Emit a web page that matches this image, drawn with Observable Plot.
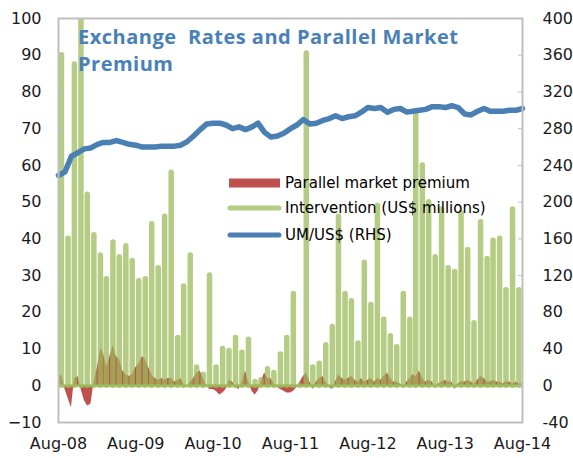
<!DOCTYPE html>
<html><head><meta charset="utf-8">
<script src="https://cdn.jsdelivr.net/npm/d3@7"></script>
<script src="https://cdn.jsdelivr.net/npm/@observablehq/plot@0.6"></script>
<style>body{margin:0;background:#fff}</style>
</head><body><div id="chart"></div>
<script>
// Intervention (US$ millions), monthly spikes Aug-08 .. Jul-14 (left axis)
const interventionValues = [
  90, 40, 87.5, 110, 52, 41, 35.5, 29, 39, 35,
  38, 34, 28.5, 29, 44, 32, 46, 58, 13, 27,
  35.5, 5, 3, 30, 5, 10, 9.5, 13, 9, 12.5,
  1, 1.5, 4.5, 3.5, 8.5, 13, 25, 0, 90.5, 5,
  6, 11, 16, 46, 25, 23, 11.5, 33.5, 22, 49,
  18, 13.5, 10.5, 25, 18, 74, 60, 50, 35, 48,
  32, 31, 47, 37, 17, 44.5, 34.5, 39.5, 40, 26,
  48, 26
];
// Parallel market premium, semi-monthly Aug-08 .. Aug-14 (left axis)
const premiumValues = [
  2, 3, -1, -3.5, -6, 2, 2.5, -1, -4, -5.5,
  -5, 1, 5, 10, 9, 5, 8, 11, 8, 7,
  4, 3, 2.5, 3, 5, 6, 8, 7, 5, 3,
  2, 1.5, 2, 1.5, 2, 2, 1, 1.5, 2, 0.5,
  -0.5, 1, 2, 3.5, 4, 2, 0, -1, -1, -1.5,
  -2.5, -2, -1, 1.5, 1, -0.5, -1, 1, 4, 1,
  -1.5, -2.5, -1.5, 1, 3.5, 2, 2, 0.5, -0.5, -1,
  -1.5, -2, -2, -1.5, -0.5, 1, 2.5, 3.5, 1, -1,
  1, 2, 2.5, 1, -0.5, -1, 1, 3, 2, 1.5,
  2, 2.5, 1.5, 1, 2, 1, 1.5, 2, 1, 2,
  1.5, 2.5, 3.5, 2, 1, 1, 0.5, -0.5, 1, 2,
  3, 2.5, 4, 2, 1, 1.5, 1, -0.5, 0.5, 1,
  1.5, 1, 1, -1, 0.5, 1, 1, 1.5, 1, 0.5,
  1.5, 2.5, 2, 1, 1, 1.5, 1, 1, 0.5, 1,
  1, 0.5, 1, 0.5, 0.5
];
// UM/US$ (RHS), monthly Aug-08 .. Aug-14
const umUsdValues = [
  229, 233, 250, 254, 258, 259, 263, 265, 265, 267,
  265, 263, 262, 260, 260, 260, 261, 261, 261, 262,
  266, 272, 279, 285, 286, 286, 284, 280, 282, 279,
  282, 286, 276, 271, 272, 275, 280, 284, 290, 285,
  286, 289, 291, 294, 291, 293, 294, 298, 303, 302,
  303, 298, 301, 302, 298, 299, 300, 301, 304, 304,
  303, 305, 303, 296, 295, 299, 302, 299, 299, 299,
  300, 300, 302
];
const leftTicks = [-10, 0, 10, 20, 30, 40, 50, 60, 70, 80, 90, 100];
const rightTickLabels = ["-40", "0", "40", "80", "120", "160", "200", "240", "280", "320", "360", "400"];
const xTickLabels = ["Aug-08", "Aug-09", "Aug-10", "Aug-11", "Aug-12", "Aug-13", "Aug-14"];
const legendLabels = ["Parallel market premium", "Intervention (US$ millions)", "UM/US$ (RHS)"];
const titleLines = ["Exchange  Rates and Parallel Market", "Premium"];
const colors = {premium: "#c0504d", intervention: "#9bbb59", umusd: "#4a7fb3", title: "#4a80b8"};

const rhsRatio = 4;
const interv = interventionValues.map((v, i) => ({date: new Date(Date.UTC(2008, 7 + i, 15)), value: v}));
const premium = premiumValues.map((v, k) => ({
  date: new Date(Date.UTC(2008, 7 + Math.floor(k / 2), k % 2 ? 16 : 1)), value: v}));
const umUsd = umUsdValues.map((v, m) => ({date: new Date(Date.UTC(2008, 7 + m, 1)), value: v}));
const xTicks = xTickLabels.map((_, i) => new Date(Date.UTC(2008 + i, 7, 1)));

const plot = Plot.plot({
  width: 573, height: 458,
  marginLeft: 58, marginRight: 51, marginTop: 18, marginBottom: 36,
  x: {type: "utc", domain: [xTicks[0], xTicks[xTicks.length - 1]], label: null},
  y: {domain: [-10, 100], label: null},
  style: {fontFamily: "DejaVu Sans", fontSize: "16px", color: "#1a1a1a", background: "#fff"},
  marks: [
    Plot.areaY(premium, {x: "date", y: "value", fill: colors.premium}),
    Plot.ruleY([0], {stroke: colors.intervention, strokeWidth: 3, strokeOpacity: 0.85}),
    Plot.ruleX(interv, {x: "date", y1: 0, y2: "value", stroke: colors.intervention,
      strokeOpacity: 0.75, strokeWidth: 5.5, strokeLinecap: "round", clip: true}),
    Plot.line(umUsd, {x: "date", y: d => d.value / rhsRatio, stroke: colors.umusd,
      strokeWidth: 5.5, strokeLinejoin: "round", strokeLinecap: "round"}),
    Plot.frame({stroke: "#bfbfbf", strokeWidth: 2}),
    Plot.axisY(leftTicks, {anchor: "left", tickSize: 0, tickPadding: 17, fontSize: 16, label: null}),
    Plot.axisY(leftTicks, {anchor: "left", tickSize: 5, dx: 5, tickFormat: () => "", stroke: "#bfbfbf", label: null}),
    Plot.axisY(leftTicks, {anchor: "right", tickSize: 0, tickPadding: 20, fontSize: 16, label: null,
      tickFormat: d => rightTickLabels[leftTicks.indexOf(d)]}),
    Plot.axisY(leftTicks, {anchor: "right", tickSize: 5, dx: -5, tickFormat: () => "", stroke: "#bfbfbf", label: null}),
    Plot.axisX(xTicks, {anchor: "bottom", tickSize: 0, tickPadding: 15, fontSize: 16, label: null,
      tickFormat: d => xTickLabels[xTicks.findIndex(t => +t === +d)]})
  ]
});
document.getElementById("chart").appendChild(plot);

const svg = d3.select(plot);
const title = svg.append("text")
  .attr("font-family", "Open Sans").attr("font-weight", 700).attr("font-size", 20)
  .attr("letter-spacing", "0.5px").attr("text-anchor", "start")
  .attr("fill", colors.title).style("white-space", "pre");
titleLines.forEach((l, i) => title.append("tspan").attr("x", 78).attr("y", 44 + i * 27).text(l));

const lg = svg.append("g").attr("font-family", "DejaVu Sans").attr("font-size", 15)
  .attr("text-anchor", "start").attr("fill", "#000");
const rows = [183, 208, 235];
lg.append("rect").attr("x", 229).attr("y", rows[0] - 4.5).attr("width", 51).attr("height", 9).attr("fill", colors.premium);
lg.append("line").attr("x1", 230).attr("x2", 279).attr("y1", rows[1]).attr("y2", rows[1])
  .attr("stroke", colors.intervention).attr("stroke-opacity", 0.75).attr("stroke-width", 5).attr("stroke-linecap", "round");
lg.append("line").attr("x1", 230).attr("x2", 279).attr("y1", rows[2]).attr("y2", rows[2])
  .attr("stroke", colors.umusd).attr("stroke-width", 5).attr("stroke-linecap", "round");
legendLabels.forEach((l, i) => lg.append("text").attr("x", 285).attr("y", rows[i]).attr("dy", "0.36em").text(l));
</script>
</body></html>
